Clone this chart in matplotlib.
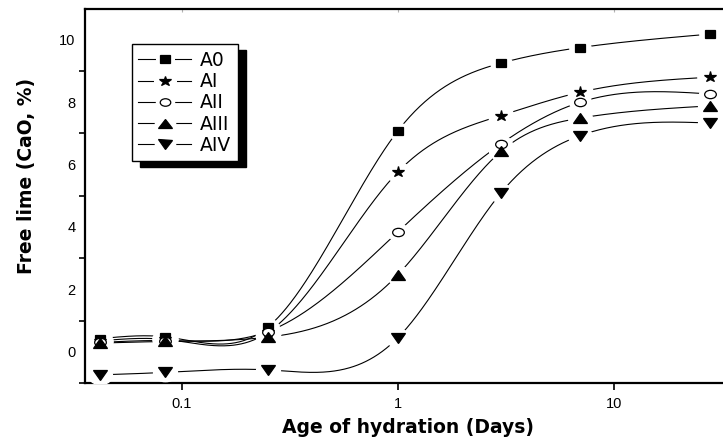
import numpy as np
import matplotlib
matplotlib.use("Agg")
import matplotlib.pyplot as plt
from matplotlib.lines import Line2D
from matplotlib.legend_handler import HandlerTuple
from matplotlib.markers import MarkerStyle
from matplotlib.transforms import Affine2D

plt.rcParams['font.family'] = ['Liberation Sans', 'DejaVu Sans']

# Age of hydration (days): 1 h, 2 h, 6 h, 1, 3, 7, 28 days
days = [1/24, 2/24, 6/24, 1, 3, 7, 28]
series_names = ["A0", "AI", "AII", "AIII", "AIV"]
A0 = [0.42, 0.48, 0.79, 7.08, 9.25, 9.75, 10.18]
AI = [0.35, 0.40, 0.62, 5.76, 7.57, 8.32, 8.80]
AII = [0.30, 0.36, 0.65, 3.84, 6.66, 8.00, 8.26]
AIII = [0.28, 0.33, 0.47, 2.47, 6.42, 7.49, 7.88]
AIV = [-0.74, -0.66, -0.58, 0.45, 5.09, 6.93, 7.33]
values = [A0, AI, AII, AIII, AIV]
markers = ["s", "*", "o", "^", "v"]
msizes = [5.8, 8.0, 6.0, 7.2, 7.2]
mstretch = [1.25, 1.2, 1.4, 1.45, 1.45]
faces = ["k", "k", "w", "k", "k"]

yticks = [0, 2, 4, 6, 8, 10]
xticks = [0.1, 1, 10]
xticklabels = ["0.1", "1", "10"]


def natural_spline(t, y, tt):
    t = np.asarray(t, float)
    y = np.asarray(y, float)
    n = len(t)
    h = np.diff(t)
    A = np.zeros((n, n))
    b = np.zeros(n)
    A[0, 0] = 1
    A[-1, -1] = 1
    for i in range(1, n - 1):
        A[i, i - 1] = h[i - 1]
        A[i, i] = 2 * (h[i - 1] + h[i])
        A[i, i + 1] = h[i]
        b[i] = 6 * ((y[i + 1] - y[i]) / h[i] - (y[i] - y[i - 1]) / h[i - 1])
    M = np.linalg.solve(A, b)
    idx = np.clip(np.searchsorted(t, tt) - 1, 0, n - 2)
    t0, t1 = t[idx], t[idx + 1]
    hh = t1 - t0
    a = (t1 - tt) / hh
    c = (tt - t0) / hh
    return (a * y[idx] + c * y[idx + 1]
            + ((a ** 3 - a) * M[idx] + (c ** 3 - c) * M[idx + 1]) * hh ** 2 / 6)


def mk(m, sx):
    return MarkerStyle(m, transform=Affine2D().scale(sx, 1.0))


fig = plt.figure(figsize=(7.23, 4.45), dpi=100)
ax = fig.add_axes([85 / 723, 1 - 383 / 445, 1 - 85 / 723 + 0.002, (383 - 8.5) / 445])

logx = np.log10(days)
tt = np.linspace(logx[0], logx[-1], 600)
handles = []
for name, vals, m, ms, sx, fc in zip(series_names, values, markers, msizes, mstretch, faces):
    yy = natural_spline(logx, vals, tt)
    ax.plot(10 ** tt, yy, color="k", lw=0.8, zorder=2)
    ax.plot(days, vals, ls="none", marker=mk("o", 1.3), ms=ms + 6, mfc="w", mec="w", zorder=3)
    ax.plot(days, vals, ls="none", marker=mk(m, sx), ms=ms, mfc=fc, mec="k", mew=0.9,
            zorder=4, clip_on=False)
    h_line = Line2D([], [], color="k", lw=0.8)
    h_gap = Line2D([], [], ls="none", marker=mk("o", 1.3), ms=ms + 4, mfc="w", mec="w")
    h_mark = Line2D([], [], ls="none", marker=mk(m, sx), ms=ms * 0.9, mfc=fc, mec="k",
                    mew=0.9)
    handles.append((h_line, h_gap, h_mark))

ax.set_xscale("log")
ax.set_xlim(0.0356, 32.5)
ax.set_ylim(-1.0, 11.0)

ax.set_xticks(xticks)
ax.set_xticklabels(xticklabels)
ax.xaxis.set_minor_locator(matplotlib.ticker.NullLocator())
ax.set_yticks(yticks)
ax.set_yticks([-1, 1, 3, 5, 7, 9], minor=True)
ax.tick_params(axis="y", which="major", length=0, labelsize=10.5, pad=7)
ax.tick_params(axis="y", which="minor", length=4, width=1.2, direction="out")
ax.tick_params(axis="x", which="major", length=5, width=1.2, direction="out",
               labelsize=10.5, pad=5)
ax.spines["right"].set_visible(False)
for s in ["left", "bottom", "top"]:
    ax.spines[s].set_linewidth(1.6)

sec = ax.secondary_xaxis("top")
sec.set_xticks(xticks)
sec.set_xticklabels([])
sec.xaxis.set_minor_locator(matplotlib.ticker.NullLocator())
sec.tick_params(axis="x", which="major", direction="in", length=3, color="0.7", width=0.8)
sec.spines["top"].set_visible(False)

lab_font = dict(fontsize=13.5, fontweight="bold", family=["DejaVu Sans"])
ax.set_xlabel("Age of hydration (Days)", **lab_font)
ax.xaxis.set_label_coords(408 / 723, 1 - 418 / 445, transform=fig.transFigure)
ax.set_ylabel("Free lime (CaO, %)", **lab_font)
ax.yaxis.set_label_coords(36 / 723, 1 - 176 / 445, transform=fig.transFigure)

leg = ax.legend(handles, series_names, handler_map={tuple: HandlerTuple(ndivide=1)},
                loc="upper left", bbox_to_anchor=(131.7 / 723, 1 - 44.3 / 445),
                bbox_transform=fig.transFigure, borderaxespad=0,
                prop={"family": ["DejaVu Sans"], "size": 13.5},
                handlelength=2.8, handletextpad=0.5, labelspacing=0.12, borderpad=0.35,
                fancybox=False, framealpha=1, edgecolor="k",
                shadow={"ox": 5.8, "oy": -4.3, "facecolor": "k", "edgecolor": "k", "alpha": 1})
leg.get_frame().set_linewidth(1.0)

fig.savefig("out.png", dpi=100)
